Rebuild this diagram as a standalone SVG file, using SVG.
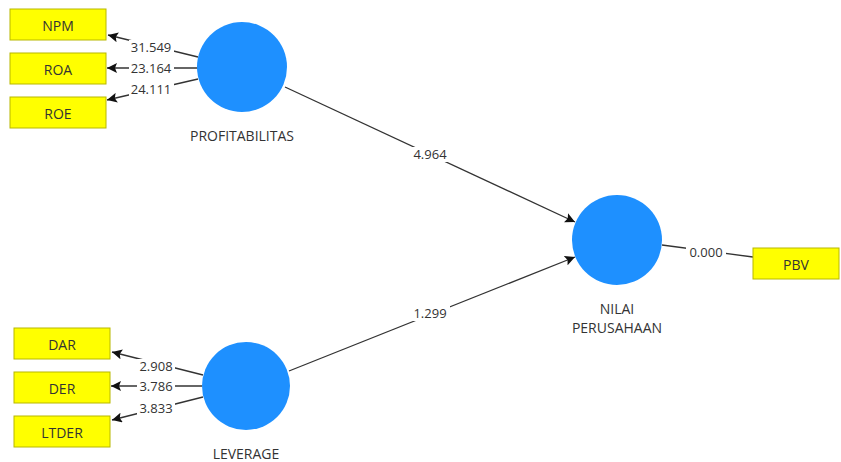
<svg xmlns="http://www.w3.org/2000/svg" width="841" height="462" viewBox="0 0 841 462">
<style>
.box{fill:#ffff00;stroke:#b8b800;stroke-width:1}
.lv{fill:#1e90ff}
.t{font-family:"Open Sans","Liberation Sans",sans-serif;font-size:13px;fill:#333;text-anchor:middle;dominant-baseline:central}
.n{font-size:14px}
.e{stroke:#333;stroke-width:1.3;fill:none}
.lb{fill:#fff}
</style>
<defs>
<marker id="ah" viewBox="0 0 10 10" refX="10" refY="5" markerWidth="10" markerHeight="10" markerUnits="userSpaceOnUse" orient="auto">
<path d="M0,0 L10,5 L0,10 L2,5 Z" fill="#111"/>
</marker>
</defs>
<rect width="841" height="462" fill="#fff"/>
<g id="connectors">
<line class="e" x1="198" y1="57" x2="108" y2="35" marker-end="url(#ah)"/>
<line class="e" x1="198" y1="68" x2="107" y2="68" marker-end="url(#ah)"/>
<line class="e" x1="198" y1="79" x2="107" y2="100" marker-end="url(#ah)"/>
<line class="e" x1="203" y1="375" x2="112" y2="352" marker-end="url(#ah)"/>
<line class="e" x1="202" y1="386" x2="111" y2="386" marker-end="url(#ah)"/>
<line class="e" x1="203" y1="397" x2="112" y2="420" marker-end="url(#ah)"/>
<line class="e" x1="285" y1="87" x2="575" y2="222" marker-end="url(#ah)"/>
<line class="e" x1="289" y1="371" x2="575" y2="257" marker-end="url(#ah)"/>
<line class="e" x1="662" y1="245" x2="753" y2="257"/>
<rect class="lb" x="129" y="40" width="45" height="14"/>
<text class="t" x="151" y="47">31.549</text>
<rect class="lb" x="129" y="61" width="45" height="14"/>
<text class="t" x="151" y="68">23.164</text>
<rect class="lb" x="129" y="82" width="45" height="14"/>
<text class="t" x="151" y="89">24.111</text>
<rect class="lb" x="137" y="359" width="38" height="14"/>
<text class="t" x="156" y="366">2.908</text>
<rect class="lb" x="137" y="379" width="38" height="14"/>
<text class="t" x="156" y="386">3.786</text>
<rect class="lb" x="137" y="401" width="38" height="14"/>
<text class="t" x="156" y="408">3.833</text>
<rect class="lb" x="410" y="147" width="40" height="15"/>
<text class="t" x="430" y="154">4.964</text>
<rect class="lb" x="410" y="306" width="40" height="15"/>
<text class="t" x="430" y="313">1.299</text>
<rect class="lb" x="686" y="245" width="40" height="15"/>
<text class="t" x="706" y="252">0.000</text>
</g>
<g id="npm"><rect class="box" x="10" y="9" width="96" height="31"/><text class="t n" x="58" y="25">NPM</text></g>
<g id="roa"><rect class="box" x="10" y="53" width="96" height="31"/><text class="t n" x="58" y="69">ROA</text></g>
<g id="roe"><rect class="box" x="10" y="97" width="96" height="31"/><text class="t n" x="58" y="113">ROE</text></g>
<g id="dar"><rect class="box" x="14" y="328" width="96" height="31"/><text class="t n" x="62" y="344">DAR</text></g>
<g id="der"><rect class="box" x="14" y="372" width="96" height="31"/><text class="t n" x="62" y="388">DER</text></g>
<g id="ltder"><rect class="box" x="14" y="416" width="96" height="31"/><text class="t n" x="62" y="432">LTDER</text></g>
<g id="pbv"><rect class="box" x="753" y="248" width="86" height="31"/><text class="t n" x="796" y="264">PBV</text></g>
<g id="profitabilitas"><circle class="lv" cx="242" cy="67" r="45"/><text class="t n" x="242" y="135">PROFITABILITAS</text></g>
<g id="leverage"><circle class="lv" cx="246" cy="386" r="44"/><text class="t n" x="246" y="453">LEVERAGE</text></g>
<g id="nilai"><circle class="lv" cx="617" cy="240" r="45"/><text class="t n" x="617" y="308">NILAI</text><text class="t n" x="617" y="327">PERUSAHAAN</text></g>
</svg>
